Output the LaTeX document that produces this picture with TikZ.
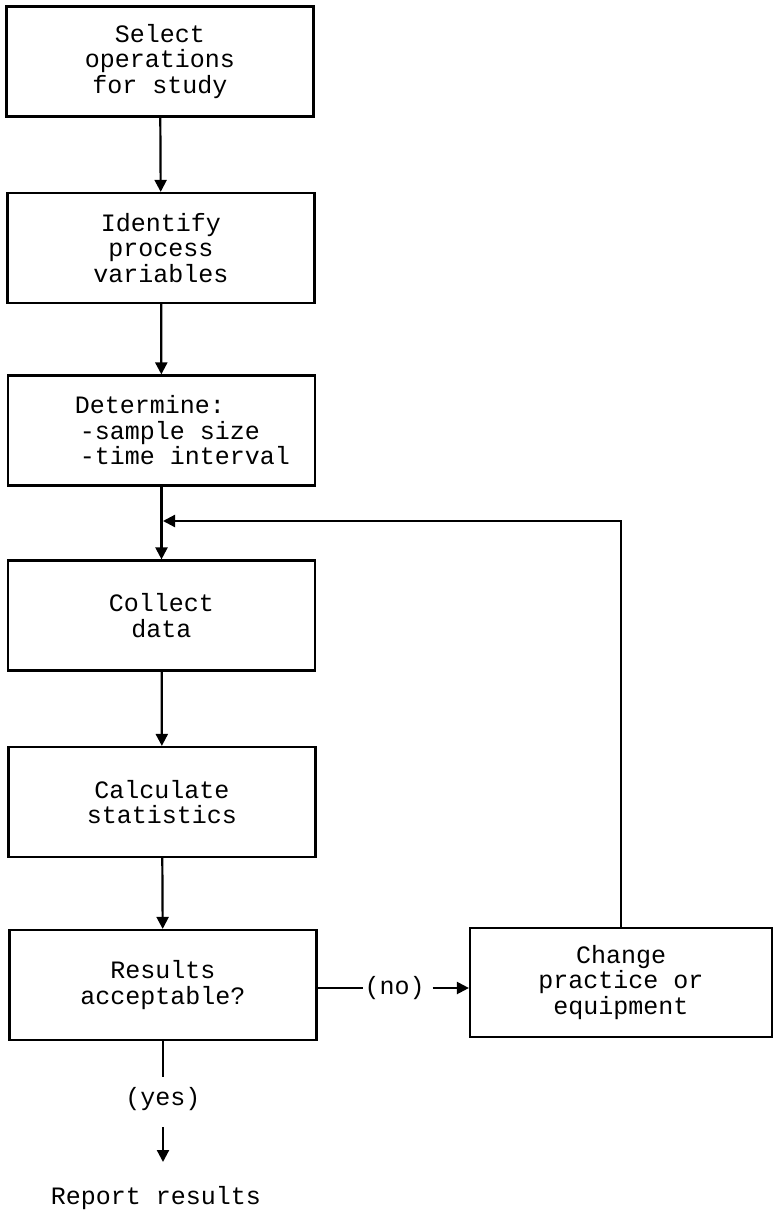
\documentclass[tikz,border=0pt]{standalone}
\usepackage{fontspec}
\setmonofont{Liberation Mono}
\usepackage{tikz}
\usetikzlibrary{arrows.meta}

\begin{document}
\begin{tikzpicture}[x=1pt,y=-1pt,
    box/.style={draw, line width=2.2pt, minimum width=307pt, minimum height=110pt, inner sep=0pt, align=center},
    lbl/.style={inner sep=0pt},
    line/.style={line width=2.2pt},
    arr/.style={line width=2.2pt, -{Triangle[length=12pt,width=12pt]}}]
    \useasboundingbox (0,0) rectangle (773,1212);
    \ttfamily\fontsize{25}{25.5}\selectfont

    \node[box] (select) at (160,61.5) {Select\\operations\\ for study};
    \node[box] (identify) at (161,248) {Identify\\process\\variables};
    \node[box, align=left] (determine) at (161.5,430.5) {\hspace*{42pt}Determine:\\\hspace*{47pt}-sample size\\\hspace*{47pt}-time interval};
    \node[box] (collect) at (161.5,615.5) {Collect\\data};
    \node[box] (calculate) at (162,802) {Calculate\\statistics};
    \node[box] (results) at (163,985) {Results\\acceptable?};
    \node[box, minimum width=302pt, minimum height=109pt] (change) at (621,982.5) {Change\\practice or\\equipment};

    \node[lbl] (no) at (394.5,988) {(no)};
    \node[lbl] (yes) at (163,1099) {(yes)};
    \node[lbl] (report) at (156,1198) {Report results};
    \coordinate (join) at (163,521);

    \draw[arr] (select) -- (identify);
    \draw[arr] (identify) -- (determine);
    \draw[arr] (determine) -- (collect);
    \draw[arr] (collect) -- (calculate);
    \draw[arr] (calculate) -- (results);
    \draw[arr] (change.north) |- (join);
    \draw[line, shorten >=32pt] (results.east |- no.center) -- (no.center);
    \draw[arr, shorten <=38pt] (no.center) -- (change.west |- no.center);
    \draw[line, shorten >=22pt] (results.south) -- (yes.center);
    \draw[arr, shorten <=28pt, shorten >=36pt] (yes.center) -- (yes.center |- report.center);
\end{tikzpicture}
\end{document}
